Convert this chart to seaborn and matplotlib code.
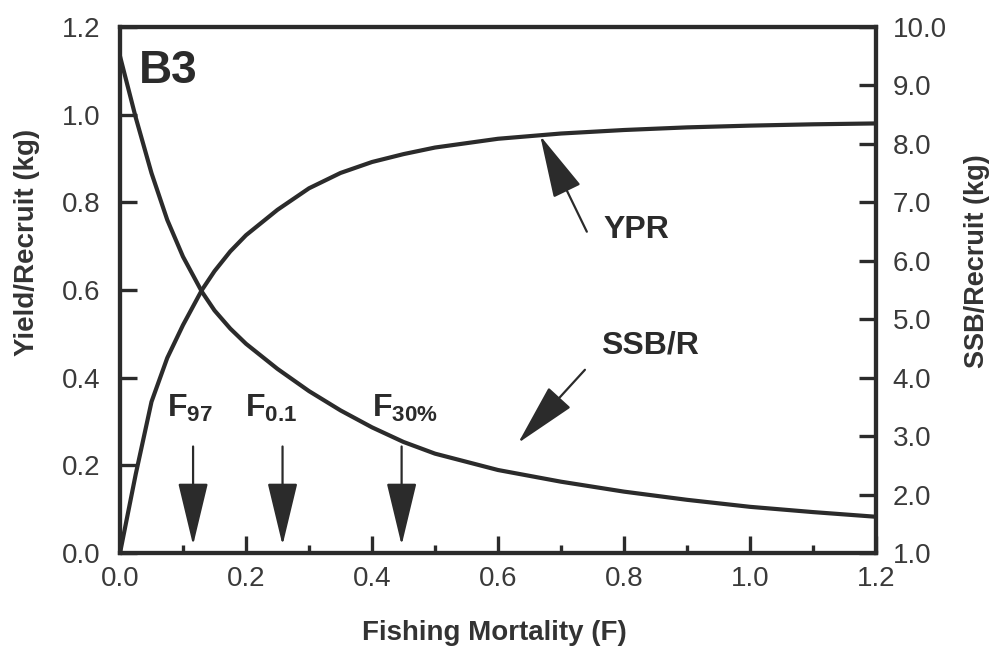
import numpy as np
import pandas as pd
import seaborn as sns
import matplotlib
matplotlib.use("Agg")
import matplotlib.pyplot as plt

# values
F = [0.0, 0.025, 0.05, 0.075, 0.1, 0.13, 0.15, 0.175, 0.2, 0.25, 0.3, 0.35,
     0.4, 0.45, 0.5, 0.6, 0.7, 0.8, 0.9, 1.0, 1.1, 1.2]
ypr = [0.0, 0.18, 0.345, 0.445, 0.52, 0.60, 0.643, 0.688, 0.725, 0.783, 0.832,
       0.867, 0.892, 0.91, 0.925, 0.945, 0.957, 0.965, 0.971, 0.975, 0.978, 0.98]
ssb_r = [9.5, 8.45, 7.5, 6.7, 6.07, 5.47, 5.15, 4.84, 4.58, 4.15, 3.77, 3.44,
         3.15, 2.9, 2.7, 2.42, 2.22, 2.05, 1.91, 1.79, 1.7, 1.62]

ref_labels = [r"$\mathbf{F_{97}}$", r"$\mathbf{F_{0.1}}$", r"$\mathbf{F_{30\%}}$"]
ref_F = [0.116, 0.258, 0.447]
ref_label_F = [0.111, 0.240, 0.452]

x_ticks = [0.0, 0.2, 0.4, 0.6, 0.8, 1.0, 1.2]
left_ticks = [0.0, 0.2, 0.4, 0.6, 0.8, 1.0, 1.2]
right_ticks = [1.0, 2.0, 3.0, 4.0, 5.0, 6.0, 7.0, 8.0, 9.0, 10.0]

df = pd.DataFrame({"F": F, "ypr": ypr, "ssb_r": ssb_r})

sns.set_style("ticks")
plt.rcParams['font.family'] = ['Liberation Sans', 'DejaVu Sans']
plt.rcParams['mathtext.fontset'] = 'custom'
plt.rcParams['mathtext.bf'] = 'Liberation Sans:bold'
plt.rcParams['mathtext.rm'] = 'Liberation Sans'

ink = "#2b2b2b"
fig = plt.figure(figsize=(9.92, 6.59), dpi=100)
ax = fig.add_axes([120 / 992, 1 - 553 / 659, 756 / 992, 526 / 659])
ax2 = ax.twinx()

sns.lineplot(data=df, x="F", y="ypr", ax=ax, color=ink, linewidth=3)
sns.lineplot(data=df, x="F", y="ssb_r", ax=ax2, color=ink, linewidth=3)

ax.set_xlim(0, 1.2)
ax.set_ylim(0, 1.2)
ax2.set_ylim(1.0, 10.0)

ax.set_xticks(x_ticks)
ax.set_xticklabels([f"{v:.1f}" for v in x_ticks])
ax.set_xticks(np.arange(0.1, 1.2, 0.2), minor=True)
ax.set_yticks(left_ticks)
ax.set_yticklabels([f"{v:.1f}" for v in left_ticks])
ax2.set_yticks(right_ticks)
ax2.set_yticklabels([f"{v:.1f}" for v in right_ticks])

for a in (ax, ax2):
    for s in a.spines.values():
        s.set_linewidth(3)
        s.set_color(ink)
    a.tick_params(direction="in", length=12, width=2.4, color=ink,
                  labelsize=20, labelcolor="#3a3a3a")
    a.tick_params(which="minor", direction="in", length=6, width=2.4, color=ink)
ax.tick_params(axis="x", pad=9)
ax.tick_params(axis="y", pad=14, right=False)
ax2.tick_params(axis="y", pad=12)

lab_kw = dict(fontsize=20, fontweight="bold", color="#333333")
ax.set_xlabel("Fishing Mortality (F)", **lab_kw)
ax.set_ylabel("Yield/Recruit (kg)", **lab_kw)
ax2.set_ylabel("SSB/Recruit (kg)", fontsize=19.5, fontweight="bold", color="#333333")
ax.xaxis.set_label_coords(0.495, -0.127)
ax.yaxis.set_label_coords(-0.106, 0.59)
ax2.yaxis.set_label_coords(1.116, 0.555)

ax.text(0.076, 1.099, "B3", fontsize=33, fontweight="bold", color=ink,
        ha="center", va="center")

arrow = dict(arrowstyle="-|>,head_length=2.0,head_width=0.48", color=ink,
             lw=1.6, shrinkA=0, shrinkB=0, mutation_scale=20)
for lab, fx, lx in zip(ref_labels, ref_F, ref_label_F):
    ax.text(lx, 0.33, lab, fontsize=23, color=ink, ha="center", va="center")
    ax.annotate("", xy=(fx, 0.018), xytext=(fx, 0.243), arrowprops=arrow)

ax.annotate("", xy=(0.667, 0.952), xytext=(0.741, 0.733), arrowprops=arrow)
ax.text(0.819, 0.737, "YPR", fontsize=23, fontweight="bold", color=ink,
        ha="center", va="center")
ax.annotate("", xy=(0.632, 0.251), xytext=(0.738, 0.418), arrowprops=arrow)
ax.text(0.841, 0.474, "SSB/R", fontsize=23, fontweight="bold", color=ink,
        ha="center", va="center")

fig.savefig("out.png", dpi=100)
